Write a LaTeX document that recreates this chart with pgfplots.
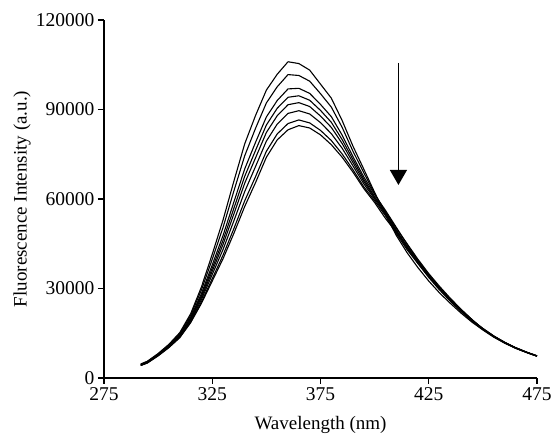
\documentclass[border=0pt]{standalone}
\usepackage{pgfplots}
\usepackage{pgfplotstable}
\usepackage{fontspec}
\setmainfont{Liberation Serif}
\pgfplotsset{compat=1.18}
\usetikzlibrary{arrows.meta}
\pgfplotstableread{
x c0 c1 c2 c3 c4 c5 c6 c7
292 4700 4600 4500 4400 4400 4300 4200 4200
295 5600 5500 5400 5300 5200 5100 5100 5000
300 8200 8000 7900 7800 7700 7600 7500 7400
305 11300 11100 10900 10700 10600 10500 10300 10200
310 15200 14900 14500 14300 14100 13900 13700 13500
315 21500 20900 20300 19900 19600 19200 18800 18500
320 30500 29500 28300 27600 27000 26300 25500 25000
325 41500 39800 37900 36800 35800 34700 33300 32500
330 53000 50500 47800 46200 44800 43100 41200 40000
335 66000 62700 59000 56900 55000 52700 50100 48500
340 78500 74500 70100 67600 65300 62500 59400 57500
345 88000 83700 79000 76300 73800 70900 67500 65500
350 96500 92200 87500 84800 82300 79400 76000 74000
355 101800 97600 93000 90400 87900 85100 81800 79800
360 106000 101700 96900 94100 91600 88700 85300 83200
365 105400 101400 97100 94600 92300 89600 86500 84600
370 103200 99500 95400 93100 91000 88500 85500 83800
375 98500 95300 91700 89700 87800 85600 83000 81500
380 93800 90800 87600 85700 84000 81900 79600 78200
385 86300 84000 81400 79900 78600 77000 75100 74000
390 77700 76000 74200 73200 72200 71100 69800 69000
395 70000 68800 67400 66600 65900 65100 64100 63500
400 62200 61800 61500 60800 60400 60000 59400 58800
405 54800 55600 56200 55300 55800 54900 54400 53500
410 47800 49300 50500 49600 50200 49000 48400 48800
415 42000 43500 44800 44200 45000 43800 43000 43900
420 37000 38400 39400 39000 39800 39200 38400 39100
425 32500 33700 34600 34300 35000 34600 34000 34500
430 28500 29500 30200 30000 30700 30300 29900 30200
435 25000 25700 26300 26100 26700 26400 26000 26300
440 21700 22200 22700 22500 23000 22800 22500 22700
445 18700 19000 19400 19300 19600 19500 19300 19400
450 16100 16200 16300 16400 16400 16500 16600 16600
455 13700 13800 13900 13900 14000 14000 14100 14100
460 11700 11800 11800 11900 11900 11900 12000 12000
465 10000 10000 10100 10100 10100 10200 10200 10200
470 8600 8600 8600 8700 8700 8700 8700 8700
475 7300 7300 7300 7400 7400 7400 7400 7400
}\spectra
\begin{document}
\begin{tikzpicture}
\begin{axis}[
  scale only axis,
  width=433pt, height=358pt,
  xmin=275, xmax=475, ymin=0, ymax=120000,
  axis x line*=bottom, axis y line*=left,
  xtick={275,325,375,425,475},
  ytick={0,30000,60000,90000,120000},
  scaled y ticks=false,
  /pgf/number format/fixed,
  /pgf/number format/1000 sep={},
  /pgf/number format/assume math mode=true,
  tick align=outside,
  major tick length=6pt,
  axis line style={line width=1.2pt},
  every tick/.style={line width=1.2pt, black},
  tick label style={font=\fontsize{19.5}{22}\selectfont},
  label style={font=\fontsize{19}{22}\selectfont},
  xlabel={Wavelength (nm)},
  ylabel={Fluorescence Intensity (a.u.)},
  xlabel style={at={(axis description cs:0.5,-0.1425)}, anchor=base},
  ylabel style={at={(axis description cs:-0.1894,0.5)}, anchor=center},
  clip=false,
]
\addplot[black, no markers, line width=1.1pt, line join=round] table[x=x,y=c0] {\spectra};
\addplot[black, no markers, line width=1.1pt, line join=round] table[x=x,y=c1] {\spectra};
\addplot[black, no markers, line width=1.1pt, line join=round] table[x=x,y=c2] {\spectra};
\addplot[black, no markers, line width=1.1pt, line join=round] table[x=x,y=c3] {\spectra};
\addplot[black, no markers, line width=1.1pt, line join=round] table[x=x,y=c4] {\spectra};
\addplot[black, no markers, line width=1.1pt, line join=round] table[x=x,y=c5] {\spectra};
\addplot[black, no markers, line width=1.1pt, line join=round] table[x=x,y=c6] {\spectra};
\addplot[black, no markers, line width=1.1pt, line join=round] table[x=x,y=c7] {\spectra};
\draw[line width=1.2pt, -{Triangle[width=17pt,length=15pt]}] (axis cs:411,105600) -- (axis cs:411,64700);
\end{axis}
\pgfresetboundingbox
\path (-104pt,-57pt) rectangle (452pt,378pt);
\end{tikzpicture}
\end{document}
